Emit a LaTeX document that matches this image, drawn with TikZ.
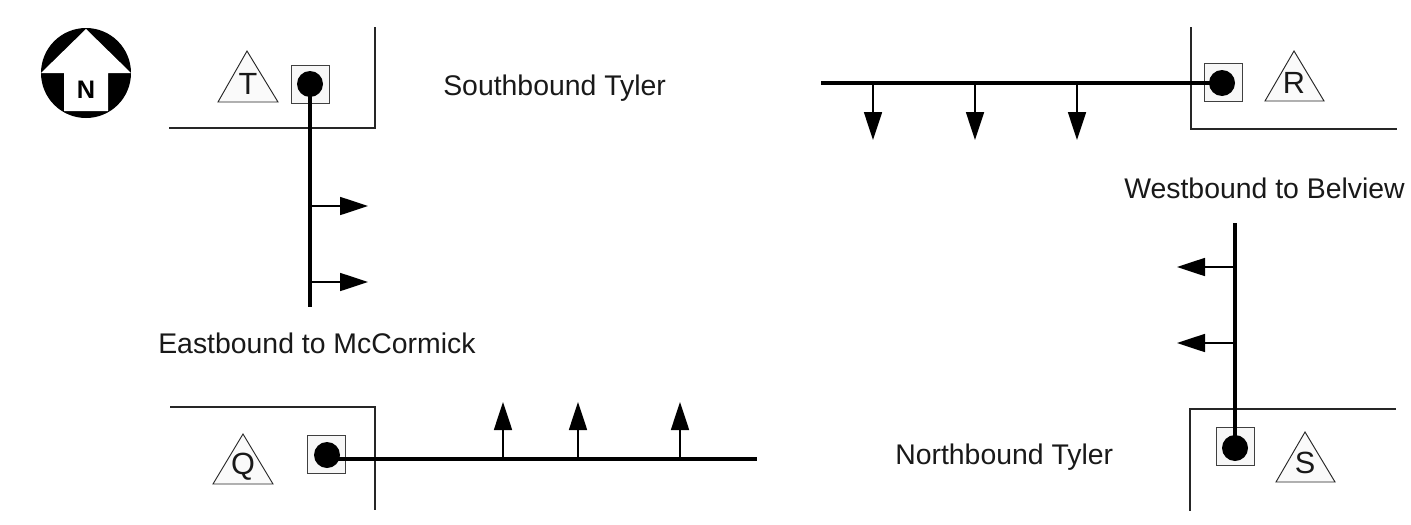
\documentclass[tikz,border=0pt]{standalone}
\usepackage{fontspec}
\setmainfont{Liberation Sans}
\usetikzlibrary{arrows.meta}
\tikzset{
  x=0.75pt,y=-0.75pt,
  road/.style={line width=1.3pt,black!85,line join=miter},
  stem/.style={line width=2.5pt,black},
  flow/.style={line width=1.3pt,black,-{Triangle[length=21pt,width=13.5pt]}},
  dot/.style={circle,fill=black,draw=none,minimum size=19.5pt,inner sep=0pt},
  signbox/.style={draw=black!75,line width=0.6pt,fill=black!3,minimum size=28.5pt,inner sep=0pt},
  tri/.style={draw=black!85,line width=0.7pt,fill=black!2,line join=miter},
  tlabel/.style={font=\fontsize{23}{23}\selectfont,inner sep=0pt,text=black!90},
  lbl/.style={font=\fontsize{21.3}{25}\selectfont,inner sep=0pt,anchor=base west,text=black!90},
}
\begin{document}
\begin{tikzpicture}
\useasboundingbox (0,0) rectangle (1411,525);
\fill[white] (0,0) rectangle (1411,525);
% compass
\node[circle,fill=black,minimum size=67.5pt,inner sep=0pt] (compass) at (86,73) {};
\fill[white] (86,29) -- (131,73) -- (108,73) -- (108,111) -- (64,111) -- (64,73) -- (41,73) -- cycle;
\node[font=\bfseries\fontsize{19}{20}\selectfont,inner sep=0pt] (north) at (86,90) {N};
% roads
\coordinate (ta) at (169,128); \coordinate (tb) at (375,128); \coordinate (tc) at (375,27);
\draw[road] (ta) -- (tb) -- (tc);
\coordinate (ra) at (1191,27); \coordinate (rb) at (1191,129); \coordinate (rc) at (1397,129);
\draw[road] (ra) -- (rb) -- (rc);
\coordinate (sa) at (1396,409); \coordinate (sb) at (1190,409); \coordinate (sc) at (1190,511);
\draw[road] (sa) -- (sb) -- (sc);
\coordinate (qa) at (170,407); \coordinate (qb) at (375,407); \coordinate (qc) at (375,510);
\draw[road] (qa) -- (qb) -- (qc);
% signal boxes
\node[signbox] (boxT) at (310,84) {};
\node[signbox] (boxR) at (1223,82) {};
\node[signbox] (boxS) at (1235,446.5) {};
\node[signbox] (boxQ) at (326,454) {};
% stems
\coordinate (endT) at (310,307);
\coordinate (endR) at (821,83);
\coordinate (endS) at (1235,223);
\coordinate (endQ) at (757,459);
\node[dot] (dotT) at (310,84) {};
\node[dot] (dotR) at (1222,83) {};
\node[dot] (dotS) at (1235,448) {};
\node[dot] (dotQ) at (327,455) {};
\draw[stem] (dotT.center) -- (endT);
\draw[stem] (dotR.center) -- (endR);
\draw[stem] (dotS.center) -- (endS);
\draw[stem] (dotQ.center |- endQ) -- (endQ);
% triangles
\draw[tri] (247,51) -- (278,102) -- (218,102) -- cycle;
\node[tlabel] (lT) at (248,83.5) {T};
\draw[tri] (1294,51) -- (1324,101) -- (1265,101) -- cycle;
\node[tlabel] (lR) at (1294,82.5) {R};
\draw[tri] (1305,432) -- (1335,482) -- (1276,482) -- cycle;
\node[tlabel] (lS) at (1305,463) {S};
\draw[tri] (243,434) -- (273,484) -- (213,484) -- cycle;
\node[tlabel] (lQ) at (243,467) {Q};
% flow arrows
\foreach \n/\y in {a/206,b/282}{
  \coordinate (s\n) at (310,\y); \coordinate (t\n) at (368,\y);
  \draw[flow] (s\n) -- (t\n);
}
\foreach \n/\x in {c/873,d/975,e/1077}{
  \coordinate (s\n) at (\x,83); \coordinate (t\n) at (\x,140);
  \draw[flow] (s\n) -- (t\n);
}
\foreach \n/\y in {f/267,g/343}{
  \coordinate (s\n) at (1235,\y); \coordinate (t\n) at (1177,\y);
  \draw[flow] (s\n) -- (t\n);
}
\foreach \n/\x in {h/503,i/578,j/680}{
  \coordinate (s\n) at (\x,459); \coordinate (t\n) at (\x,402);
  \draw[flow] (s\n) -- (t\n);
}
% labels
\node[lbl] (southT) at (443,95) {Southbound Tyler};
\node[lbl] (westB) at (1124,198) {Westbound to Belview};
\node[lbl] (eastM) at (158,353) {Eastbound to McCormick};
\node[lbl] (northT) at (895,464) {Northbound Tyler};
\end{tikzpicture}
\end{document}
